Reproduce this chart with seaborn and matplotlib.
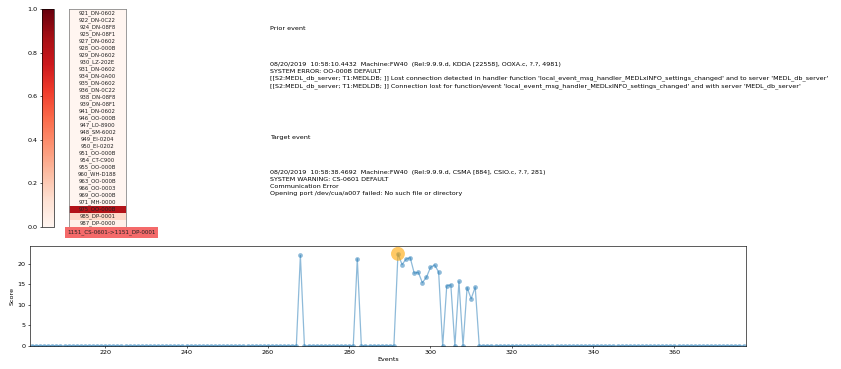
import numpy as np
import pandas as pd
import matplotlib
matplotlib.use("Agg")
import matplotlib.pyplot as plt
import seaborn as sns

W, H = 841, 369

# ---- event codes listed in the heat strip and their weights ----
codes = ["921_DN-0602", "922_DN-0C22", "924_DN-08F8", "925_DN-08F1", "927_DN-0602",
         "928_OO-000B", "929_DN-0602", "930_LZ-202E", "931_DN-0602", "934_DN-0A00",
         "935_DN-0602", "936_DN-0C22", "938_DN-08F8", "939_DN-08F1", "941_DN-0602",
         "946_OO-000B", "947_LO-8900", "948_SM-6002", "949_EI-0204", "950_EI-0202",
         "951_OO-000B", "954_CT-C900", "955_OO-000B", "960_WH-D188", "963_OO-000B",
         "966_OO-0003", "969_OO-000B", "971_MH-0000", "975_OO-000B", "985_DP-0001",
         "987_DP-0000"]
weights = [0.0, 0.0, 0.0, 0.0, 0.0,
           0.0, 0.0, 0.0, 0.0, 0.0,
           0.0, 0.0, 0.0, 0.0, 0.0,
           0.0, 0.0, 0.0, 0.0, 0.0,
           0.0, 0.0, 0.0, 0.0, 0.0,
           0.0, 0.0, 0.0, 0.83, 0.15,
           0.03]
pair_label = "1151_CS-0601->1151_DP-0001"

# ---- event text panels ----
prior_title = "Prior event"
prior_lines = [
    "08/20/2019  10:58:10.4432  Machine:FW40  (Rel:9.9.9.d, KDDA [22558], OOXA.c, ?.?, 4981)",
    "SYSTEM ERROR: OO-000B DEFAULT",
    "[[S2:MEDL_db_server; T1:MEDLDB; ]] Lost connection detected in handler function "
    "'local_event_msg_handler_MEDLxINFO_settings_changed' and to server 'MEDL_db_server'",
    "[[S2:MEDL_db_server; T1:MEDLDB; ]] Connection lost for function/event "
    "'local_event_msg_handler_MEDLxINFO_settings_changed' and with server 'MEDL_db_server'",
]
target_title = "Target event"
target_lines = [
    "08/20/2019  10:58:38.4692  Machine:FW40  (Rel:9.9.9.d, CSMA [884], CSIO.c, ?.?, 281)",
    "SYSTEM WARNING: CS-0601 DEFAULT",
    "Communication Error",
    "Opening port /dev/cua/a007 failed: No such file or directory",
]

# ---- score per event ----
events = list(range(202, 378))
scores = [
    # 202-267
    0, 0, 0, 0, 0, 0, 0, 0, 0, 0, 0, 0, 0, 0, 0, 0, 0, 0, 0, 0, 0, 0,
    0, 0, 0, 0, 0, 0, 0, 0, 0, 0, 0, 0, 0, 0, 0, 0, 0, 0, 0, 0, 0, 0,
    0, 0, 0, 0, 0, 0, 0, 0, 0, 0, 0, 0, 0, 0, 0, 0, 0, 0, 0, 0, 0, 0,
    # 268-291
    22.0, 0, 0, 0, 0, 0, 0, 0, 0, 0, 0, 0, 0, 0, 21.2, 0, 0, 0, 0, 0, 0, 0, 0, 0,
    # 292-311
    22.4, 19.8, 21.1, 21.5, 17.7, 17.9, 15.4, 16.7, 19.1, 19.7, 18.0, 0,
    14.6, 14.9, 0, 15.7, 0, 14.2, 11.5, 14.3,
    # 312-377
    0, 0, 0, 0, 0, 0, 0, 0, 0, 0, 0, 0, 0, 0, 0, 0, 0, 0, 0, 0, 0, 0,
    0, 0, 0, 0, 0, 0, 0, 0, 0, 0, 0, 0, 0, 0, 0, 0, 0, 0, 0, 0, 0, 0,
    0, 0, 0, 0, 0, 0, 0, 0, 0, 0, 0, 0, 0, 0, 0, 0, 0, 0, 0, 0, 0, 0,
]
target_event = 292

xticks = [220, 240, 260, 280, 300, 320, 340, 360]
yticks = [0, 5, 10, 15, 20]
cbar_ticks = [0.0, 0.2, 0.4, 0.6, 0.8, 1.0]

FS = 4.6
TXT = 4.62
LW = 0.45


def box(x0, y0, x1, y1):
    """pixel box (top-left origin) -> figure fraction rect"""
    return [x0 / W, 1 - y1 / H, (x1 - x0) / W, (y1 - y0) / H]


fig = plt.figure(figsize=(W / 100, H / 100), dpi=100)

# ---- heat strip with colour bar ----
cax = fig.add_axes(box(42, 9.3, 54, 227))
hax = fig.add_axes(box(69, 9.3, 126, 227))

strip = pd.DataFrame({"w": weights}, index=codes)
annot = np.array(codes).reshape(-1, 1)
sns.heatmap(strip, ax=hax, cbar_ax=cax, cmap="Reds", vmin=0, vmax=1,
            annot=annot, fmt="", annot_kws=dict(size=3.9, color="#222222"),
            xticklabels=False, yticklabels=False)
for sp in hax.spines.values():
    sp.set_visible(True)
    sp.set_color("#8a8a8a")
    sp.set_linewidth(0.6)

cax.yaxis.set_ticks_position("left")
cax.yaxis.set_label_position("left")
cax.set_yticks(cbar_ticks)
cax.set_yticklabels([f"{t:.1f}" for t in cbar_ticks])
cax.tick_params(axis="y", labelsize=FS, length=1.6, width=LW, pad=1.5)
cbar = hax.collections[0].colorbar
cbar.outline.set_linewidth(LW)

fig.text(67.5 / W, 1 - 232.5 / H, pair_label, ha="left", va="center", size=4.05,
         color="#222222",
         bbox=dict(facecolor="#f46a6a", edgecolor="none", pad=1.8))

# ---- event descriptions ----
fig.text(270 / W, 1 - 29 / H, prior_title, ha="left", va="center", size=TXT)
fig.text(270 / W, 1 - 75.5 / H, "\n".join(prior_lines), ha="left", va="center",
         size=TXT, linespacing=1.42)
fig.text(270 / W, 1 - 137 / H, target_title, ha="left", va="center", size=TXT)
fig.text(270 / W, 1 - 183 / H, "\n".join(target_lines), ha="left", va="center",
         size=TXT, linespacing=1.42)

# ---- score trace ----
ax = fig.add_axes(box(30, 246, 746, 346))
df = pd.DataFrame({"Events": events, "Score": scores})
sns.lineplot(data=df, x="Events", y="Score", ax=ax, color="#1f77b4", alpha=0.5,
             linewidth=0.9, marker="o", markersize=3.4, markeredgewidth=0)
hi = df[df["Events"] == target_event]
ax.scatter(hi["Events"], hi["Score"], s=100, color="orange", alpha=0.6,
           edgecolors="none", zorder=3)

ax.set_xlim(201.5, 377.6)
ax.set_ylim(0, 24.3)
ax.set_xticks(xticks)
ax.set_yticks(yticks)
ax.tick_params(labelsize=FS, length=1.6, width=LW, pad=1.5)
ax.set_xlabel("Events", fontsize=FS, labelpad=1.5)
ax.set_ylabel("Score", fontsize=FS, labelpad=2)
for sp in ax.spines.values():
    sp.set_linewidth(LW)

fig.savefig("out.png", dpi=100)
